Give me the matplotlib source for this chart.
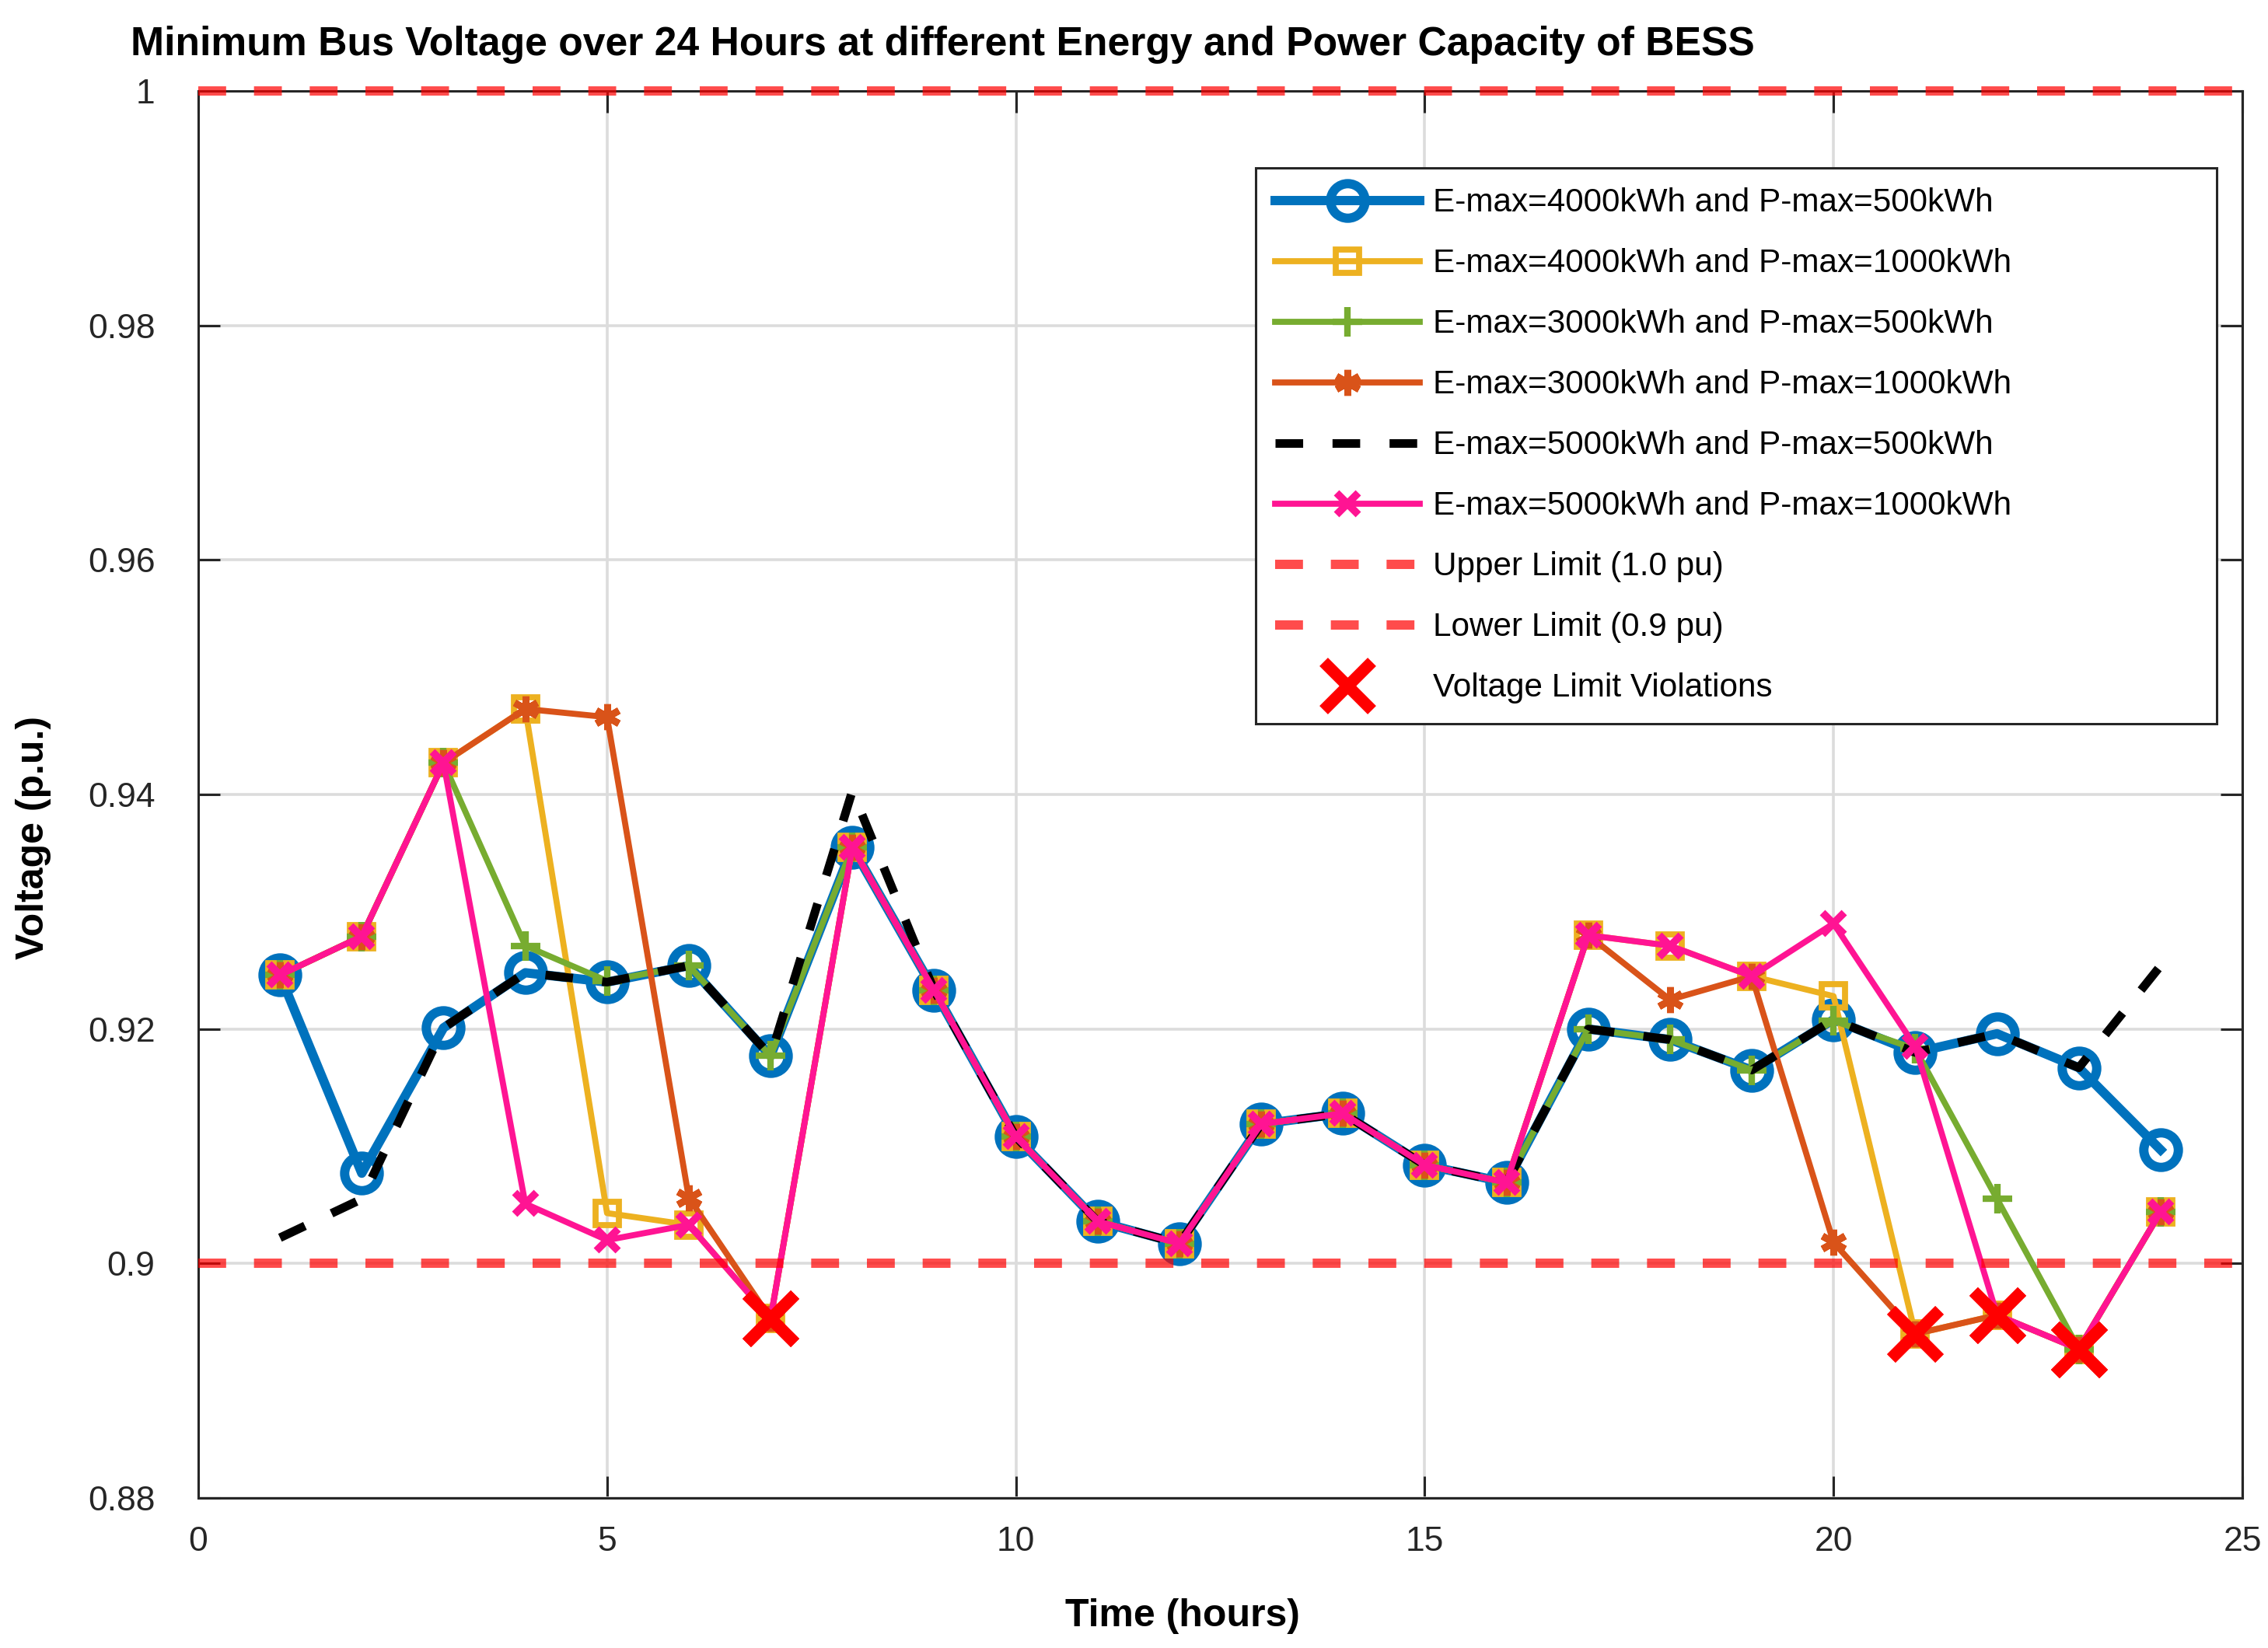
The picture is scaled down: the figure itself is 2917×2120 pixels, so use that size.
import matplotlib
matplotlib.use("Agg")
import matplotlib.pyplot as plt
from matplotlib.ticker import FormatStrFormatter

plt.rcParams['font.family'] = ['Liberation Sans', 'DejaVu Sans']

# hours 1..24
hours = list(range(1, 25))

# shared middle part of the day (t9..t16)
mid = [0.9233, 0.9108, 0.9036, 0.9017, 0.9119, 0.9128, 0.9084, 0.9069]

v_e4000_p500 = [0.9246, 0.9077, 0.9201, 0.9248, 0.9240, 0.9254, 0.9177, 0.9355] + mid + \
               [0.9200, 0.9191, 0.9165, 0.9208, 0.9180, 0.9196, 0.9167, 0.9097]
v_e4000_p1000 = [0.9246, 0.9279, 0.9427, 0.9473, 0.9043, 0.9033, 0.8953, 0.9355] + mid + \
                [0.9280, 0.9271, 0.9245, 0.9228, 0.8940, 0.8956, 0.8927, 0.9044]
v_e3000_p500 = [0.9246, 0.9279, 0.9427, 0.9271, 0.9241, 0.9254, 0.9177, 0.9355] + mid + \
               [0.9200, 0.9191, 0.9165, 0.9207, 0.9183, 0.9055, 0.8927, 0.9044]
v_e3000_p1000 = [0.9246, 0.9279, 0.9427, 0.9473, 0.9466, 0.9056, 0.8953, 0.9355] + mid + \
                [0.9280, 0.9225, 0.9245, 0.9018, 0.8940, 0.8956, 0.8927, 0.9044]
v_e5000_p500 = [0.9022, 0.9055, 0.9201, 0.9248, 0.9240, 0.9254, 0.9177, 0.9403] + mid + \
               [0.9200, 0.9191, 0.9165, 0.9208, 0.9180, 0.9196, 0.9167, 0.9254]
v_e5000_p1000 = [0.9246, 0.9279, 0.9427, 0.9051, 0.9020, 0.9033, 0.8953, 0.9355] + mid + \
                [0.9280, 0.9271, 0.9245, 0.9290, 0.9185, 0.8956, 0.8927, 0.9044]

upper = 1.0
lower = 0.9

fig = plt.figure(figsize=(14.585, 10.6), dpi=200)
ax = fig.add_axes([0.0874, 0.0910, 0.9013, 0.8538])

ax.plot(hours, v_e4000_p500, '-o', color='#0072BD', lw=4.3, ms=16, mfc='none', mew=4.3,
        label='E-max=4000kWh and P-max=500kWh')
ax.plot(hours, v_e4000_p1000, '-s', color='#EDB120', lw=2.8, ms=11, mfc='none', mew=2.8,
        label='E-max=4000kWh and P-max=1000kWh')
ax.plot(hours, v_e3000_p500, '-+', color='#77AC30', lw=2.8, ms=14, mew=3,
        label='E-max=3000kWh and P-max=500kWh')
ax.plot(hours, v_e3000_p1000, '-', marker=(6, 2, 0), color='#D95319', lw=2.8, ms=12, mew=3.2,
        label='E-max=3000kWh and P-max=1000kWh')
ax.plot(hours, v_e5000_p500, '--', color='black', lw=4, dashes=(3.2, 3.4),
        label='E-max=5000kWh and P-max=500kWh')
ax.plot(hours, v_e5000_p1000, '-x', color='#FF1493', lw=2.8, ms=10, mew=3.5,
        label='E-max=5000kWh and P-max=1000kWh')

ax.axhline(upper, color='red', alpha=0.7, lw=4.3, dashes=(3, 3), clip_on=False, zorder=5,
           label='Upper Limit (1.0 pu)')
ax.axhline(lower, color='red', alpha=0.7, lw=4.3, dashes=(3, 3), zorder=5,
           label='Lower Limit (0.9 pu)')

# points below the lower limit
all_series = [v_e4000_p500, v_e4000_p1000, v_e3000_p500, v_e3000_p1000, v_e5000_p500, v_e5000_p1000]
vx, vy = [], []
for s in all_series:
    for h, v in zip(hours, s):
        if v < lower:
            vx.append(h)
            vy.append(v)
ax.plot(vx, vy, 'x', color='red', ms=22, mew=5.5, linestyle='none', zorder=6,
        label='Voltage Limit Violations')

ax.set_xlim(0, 25)
ax.set_ylim(0.88, 1.0)
ax.set_xticks([0, 5, 10, 15, 20, 25])
ax.set_yticks([0.88, 0.90, 0.92, 0.94, 0.96, 0.98, 1.0])
ax.yaxis.set_major_formatter(FormatStrFormatter('%g'))
ax.grid(True, color='#DCDCDC', lw=1.3)
ax.set_axisbelow(True)
ax.tick_params(direction='in', length=10, width=1.1, colors='#262626', labelsize=16,
               top=True, right=True)
ax.tick_params(axis='y', pad=20)
ax.tick_params(axis='x', pad=13)
for sp in ax.spines.values():
    sp.set_color('#262626')
    sp.set_linewidth(1.1)

ax.set_xlabel('Time (hours)', fontsize=18, fontweight='bold')
ax.set_ylabel('Voltage (p.u.)', fontsize=18, fontweight='bold')
ax.xaxis.set_label_coords(0.4815, -0.071)
ax.yaxis.set_label_coords(-0.072, 0.4696)

fig.text(0.0576, 0.9665, 'Minimum Bus Voltage over 24 Hours at different Energy and Power Capacity of BESS',
         fontsize=18.6, fontweight='bold', ha='left', va='baseline')

leg = ax.legend(loc='upper left', bbox_to_anchor=(0.5173, 0.5503, 0.4701, 0.395), mode='expand',
                borderaxespad=0, fontsize=15.2, handlelength=4.4, handletextpad=0.4,
                labelspacing=0.9, borderpad=0.6, fancybox=False, framealpha=1,
                edgecolor='#262626')
leg.get_frame().set_linewidth(1.1)

fig.savefig('out.png', dpi=200)
